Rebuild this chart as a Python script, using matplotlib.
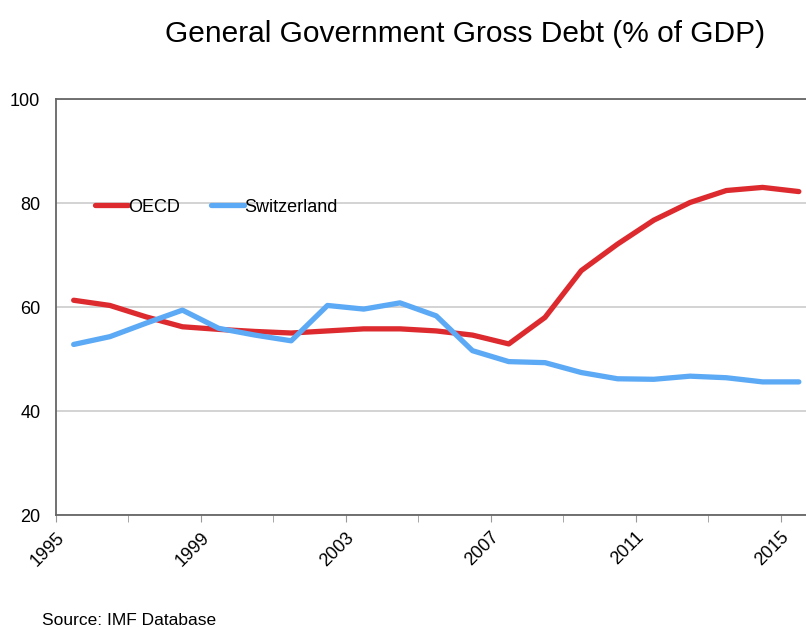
import matplotlib.pyplot as plt

years = list(range(1995, 2016))
oecd = [61.3, 60.3, 58.1, 56.2, 55.7, 55.3, 55.0, 55.4, 55.8, 55.8,
        55.4, 54.6, 52.9, 58.0, 67.0, 72.1, 76.7, 80.1, 82.4, 83.0, 82.2]
switzerland = [52.8, 54.3, 56.9, 59.4, 55.9, 54.6, 53.5, 60.3, 59.6, 60.8,
               58.3, 51.6, 49.5, 49.3, 47.4, 46.2, 46.1, 46.7, 46.4, 45.6, 45.6]
tick_labels = ['1995', '1999', '2003', '2007', '2011', '2015']

plt.rcParams['font.family'] = ['Liberation Sans', 'DejaVu Sans']

fig = plt.figure(figsize=(8.06, 6.27), dpi=100)
ax = fig.add_axes([0.0689, 0.1786, 0.9447, 0.6635])

ax.plot(years, oecd, color='#DC2A2E', lw=3.8, label='OECD', solid_capstyle='round')
ax.plot(years, switzerland, color='#5CA9F6', lw=3.8, label='Switzerland', solid_capstyle='round')

ax.set_xlim(1994.5, 2015.5)
ax.set_ylim(20, 100)
ax.set_yticks([20, 40, 60, 80, 100])
ax.yaxis.grid(True, color='#cccccc', lw=1.2)
ax.set_axisbelow(True)
ax.tick_params(axis='y', length=0, labelsize=13, pad=11)

major = [1994.5 + 4 * i for i in range(6)]
ax.set_xticks(major)
ax.set_xticklabels(tick_labels, rotation=45, ha='right', va='top', rotation_mode='anchor', fontsize=13)
ax.set_xticks([1994.5 + 2 * i for i in range(11)], minor=True)
ax.tick_params(axis='x', which='both', length=5, color='#999999', pad=5)

for s in ['left', 'bottom', 'top']:
    ax.spines[s].set_color('#666666')
    ax.spines[s].set_linewidth(1.3)
ax.spines['right'].set_visible(False)

ax.legend(loc='center left', bbox_to_anchor=(0.03, 0.74), ncol=2, frameon=False,
          fontsize=13, handlelength=1.85, handletextpad=0.0, columnspacing=1.7)

fig.text(0.577, 0.945, 'General Government Gross Debt (% of GDP)', ha='center', va='center', fontsize=21.5)
fig.text(0.052, 0.011, 'Source: IMF Database', ha='left', va='center', fontsize=12.5)

plt.savefig('out.png', dpi=100)
